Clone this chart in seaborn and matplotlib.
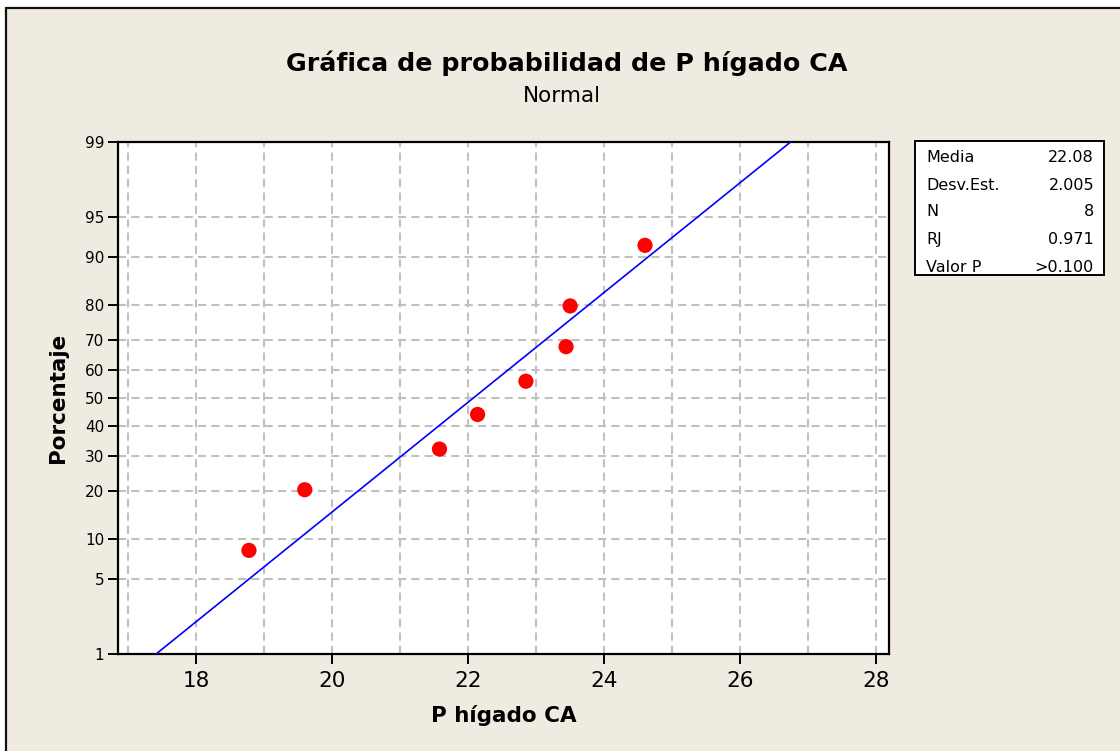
import math
import numpy as np
import pandas as pd
import matplotlib
matplotlib.use("Agg")
import matplotlib.pyplot as plt
from matplotlib.patches import Rectangle
from matplotlib.lines import Line2D
from statistics import NormalDist
import seaborn as sns

# Sample values (P hígado CA) and their median-rank plotting positions (%)
higado = [18.78, 19.60, 21.58, 22.14, 22.85, 23.44, 23.50, 24.60]
porcentaje = [8.3, 20.2, 32.1, 44.0, 56.0, 67.9, 79.8, 91.7]

# Fitted normal parameters and summary table
media = 22.08
desv_est = 2.005
stat_labels = ["Media", "Desv.Est.", "N", "RJ", "Valor P"]
stat_values = ["22.08", "2.005", "8", "0.971", ">0.100"]

# Axis ticks
y_ticks = [1, 5, 10, 20, 30, 40, 50, 60, 70, 80, 90, 95, 99]
x_ticks = [18, 20, 22, 24, 26, 28]
x_grid = list(range(17, 29))

sns.set_style("white")
plt.rcParams["font.family"] = ["DejaVu Sans"]
plt.rcParams.update({"text.color": "black", "axes.labelcolor": "black",
                     "xtick.color": "black", "ytick.color": "black"})

BG = "#EFEBE1"
W, H = 1120, 751
fig = plt.figure(figsize=(W / 100, H / 100), dpi=100, facecolor="white")

# beige panel with dark top/left frame
fig.patches.append(Rectangle((6 / W, 0), 1.0, 1 - 8 / H, transform=fig.transFigure,
                             facecolor=BG, edgecolor="none", zorder=-10))
fig.lines.append(Line2D([6 / W, 1.0], [1 - 8 / H, 1 - 8 / H], transform=fig.transFigure,
                        color="#111111", lw=1.6, zorder=-9))
fig.lines.append(Line2D([6 / W, 6 / W], [0, 1 - 8 / H], transform=fig.transFigure,
                        color="#111111", lw=1.6, zorder=-9))

ax_l, ax_r = 118.3 / W, 889.3 / W
ax_t, ax_b = 1 - 141.7 / H, 1 - 654 / H
ax = fig.add_axes([ax_l, ax_b, ax_r - ax_l, ax_t - ax_b])
ax.set_facecolor("white")

_nd = NormalDist()


def _probit(p):
    if not math.isfinite(p):
        return float("nan")
    q = min(max(p / 100.0, 1e-9), 1 - 1e-9)
    return _nd.inv_cdf(q)


def _unprobit(z):
    if not math.isfinite(z):
        return float("nan")
    return 100.0 * _nd.cdf(z)


_ppf = np.vectorize(_probit, otypes=[float])
_cdf = np.vectorize(_unprobit, otypes=[float])


def fwd(p):
    return _ppf(np.asarray(p, dtype=float))


def inv(z):
    return _cdf(np.asarray(z, dtype=float))


ax.set_yscale("function", functions=(fwd, inv))

# fitted line from 1% to 99%
line_p = np.array([1.0, 99.0])
line_x = media + desv_est * np.array([_nd.inv_cdf(p / 100) for p in line_p])
fit = pd.DataFrame({"x": line_x, "p": line_p})
sns.lineplot(data=fit, x="x", y="p", ax=ax, color="#0000FF", lw=1.2, zorder=3)

pts = pd.DataFrame({"x": higado, "p": porcentaje})
sns.scatterplot(data=pts, x="x", y="p", ax=ax, color="#FF0000", s=120,
                edgecolor="none", linewidth=0, zorder=4)

ax.set_xlim(16.86, 28.19)
ax.set_ylim(1, 99)

ax.set_xticks(x_ticks)
ax.set_xticklabels([str(v) for v in x_ticks], fontsize=15.5)
ax.set_xticks(x_grid, minor=True)
ax.set_yticks(y_ticks)
ax.set_yticklabels([str(v) for v in y_ticks], fontsize=11)
ax.yaxis.set_minor_locator(matplotlib.ticker.NullLocator())

ax.tick_params(axis="both", which="major", direction="out", length=7, width=1.4,
               color="black", pad=3, bottom=True, left=True, top=False, right=False)
ax.tick_params(axis="x", which="minor", length=0, bottom=False)
ax.tick_params(axis="x", which="major", pad=5)

# dashed reference grid: every integer on x, every labelled percentage on y
ax.grid(False)
grid_style = dict(color="#C0C0C0", lw=1.5, ls=(0, (3.9, 2.5)), zorder=1)
for xv in x_grid:
    ax.axvline(xv, **grid_style)
for yv in y_ticks[1:-1]:
    ax.axhline(yv, **grid_style)

for s in ax.spines.values():
    s.set_visible(True)
    s.set_color("black")
    s.set_linewidth(1.6)

ax.set_xlabel("P hígado CA", fontsize=15.5, fontweight="bold", labelpad=10)
ax.set_ylabel("Porcentaje", fontsize=15.5, fontweight="bold", labelpad=12)

fig.text(567 / W, 1 - 63 / H, "Gráfica de probabilidad de P hígado CA",
         ha="center", va="center", fontsize=18.3, fontweight="bold")
fig.text(562 / W, 1 - 96 / H, "Normal",
         ha="center", va="center", fontsize=15.5)

# summary statistics box
bx0, bx1, by0, by1 = 915, 1104, 141, 275
fig.patches.append(Rectangle((bx0 / W, 1 - by1 / H), (bx1 - bx0) / W, (by1 - by0) / H,
                             transform=fig.transFigure, facecolor="white",
                             edgecolor="black", lw=1.4, zorder=2))
rows_y = [158, 185, 212, 240, 267]
for lab, val, yy in zip(stat_labels, stat_values, rows_y):
    fig.text(926 / W, 1 - yy / H, lab, ha="left", va="center", fontsize=11.5, zorder=3)
    fig.text(1094 / W, 1 - yy / H, val, ha="right", va="center", fontsize=11.5, zorder=3)

fig.savefig("out.png", dpi=100, facecolor=fig.get_facecolor())
